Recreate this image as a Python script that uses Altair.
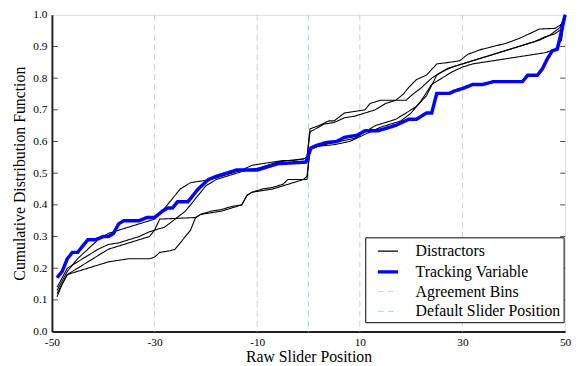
import altair as alt
import pandas as pd

# ---------------- data ----------------
x_ticks = [-50, -30, -10, 10, 30, 50]
y_ticks = [0.0, 0.1, 0.2, 0.3, 0.4, 0.5, 0.6, 0.7, 0.8, 0.9, 1.0]
agreement_bins = [-30, -10, 10, 30]
default_position = [0]

d1_x = [-49, -48, -47, -45, -43, -41, -39, -37, -35, -33, -31, -30, -29, -28, -27, -25, -23, -21, -19, -17, -15, -13,
        -11, -9, -7, -5, -3, -1, -0.3, 0.3, 2, 4, 5, 7, 9, 11, 12, 14, 17, 18.5, 19.5, 21, 23, 25, 27.5, 29.5, 31, 33.5,
        36, 38.5, 41, 43, 45, 48, 49.3, 50]
d1_y = [0.13, 0.16, 0.19, 0.23, 0.26, 0.29, 0.31, 0.32, 0.33, 0.34, 0.35, 0.355, 0.37, 0.39, 0.41, 0.45, 0.47, 0.475,
        0.48, 0.49, 0.50, 0.51, 0.525, 0.53, 0.535, 0.54, 0.54, 0.545, 0.55, 0.64, 0.65, 0.665, 0.665, 0.69, 0.695, 0.70,
        0.72, 0.73, 0.73, 0.75, 0.77, 0.795, 0.81, 0.845, 0.85, 0.855, 0.875, 0.89, 0.90, 0.91, 0.925, 0.94, 0.955,
        0.957, 0.97, 1.0]

d2_x = [-49, -48, -47, -45, -43, -41, -39, -37, -35, -33, -31, -30, -29, -22, -21, -19, -17, -15, -13, -12, -11, -9, -7,
        -5, -3, -1, -0.3, 0.3, 2, 5, 8, 10, 12, 14, 16, 18, 20, 22, 24, 26, 28, 30, 32, 34, 36, 38, 40, 42, 44, 46, 48,
        49.3, 50]
d2_y = [0.12, 0.15, 0.18, 0.20, 0.22, 0.24, 0.26, 0.27, 0.28, 0.29, 0.30, 0.32, 0.355, 0.36, 0.37, 0.38, 0.385, 0.395,
        0.40, 0.43, 0.44, 0.445, 0.45, 0.46, 0.47, 0.48, 0.49, 0.575, 0.585, 0.59, 0.60, 0.615, 0.63, 0.645, 0.655, 0.665,
        0.69, 0.73, 0.78, 0.80, 0.82, 0.835, 0.845, 0.85, 0.855, 0.86, 0.865, 0.87, 0.875, 0.88, 0.89, 0.92, 1.0]

d3_x = [-49, -48, -47, -45, -43, -41, -39, -37, -35, -33, -31, -30, -28, -26, -24, -22, -20, -18, -16, -14, -12, -10, -8,
        -6, -4, -1, -0.3, 0.3, 3, 5, 7, 9, 11, 13, 15, 17, 19, 20, 22, 24, 26, 28, 30, 32, 34, 36, 38, 40, 42, 44, 46, 48,
        49.3, 50]
d3_y = [0.14, 0.17, 0.20, 0.22, 0.24, 0.26, 0.275, 0.28, 0.29, 0.30, 0.315, 0.32, 0.33, 0.355, 0.38, 0.42, 0.46, 0.48,
        0.49, 0.50, 0.51, 0.515, 0.525, 0.535, 0.54, 0.545, 0.55, 0.63, 0.655, 0.66, 0.675, 0.68, 0.69, 0.70, 0.72, 0.73,
        0.73, 0.745, 0.77, 0.80, 0.82, 0.835, 0.845, 0.855, 0.865, 0.875, 0.885, 0.895, 0.905, 0.915, 0.93, 0.94, 0.955,
        1.0]

d4_x = [-49, -48, -47, -45, -43, -41, -39, -37, -35, -33, -31, -30, -29, -27, -26, -25, -24, -23, -22, -21, -19, -17,
        -15, -13, -12, -11, -9, -7, -5, -4, -2, -0.3, 0.3, 3, 6, 9, 11, 13, 15, 17, 19, 21, 23, 25, 27, 29, 31, 33, 35,
        37, 39, 41, 43, 45, 47, 49, 50]
d4_y = [0.11, 0.15, 0.18, 0.19, 0.20, 0.21, 0.22, 0.225, 0.23, 0.23, 0.23, 0.235, 0.25, 0.255, 0.26, 0.28, 0.30, 0.32,
        0.36, 0.37, 0.375, 0.38, 0.39, 0.40, 0.43, 0.44, 0.45, 0.455, 0.465, 0.48, 0.48, 0.48, 0.58, 0.59, 0.60, 0.61,
        0.63, 0.65, 0.66, 0.67, 0.69, 0.71, 0.745, 0.81, 0.83, 0.84, 0.85, 0.86, 0.87, 0.88, 0.89, 0.90, 0.91, 0.92,
        0.935, 0.96, 1.0]

track_x = [-49, -48, -47, -46, -45, -44, -43, -41.5, -40, -39, -38, -37, -36, -33, -31.5, -30, -28.5, -27.5, -26.5,
           -25.5, -23.5, -21.5, -19.5, -18, -16, -14, -10, -8, -6, -0.5, 0.5, 1.5, 3.5, 5.5, 7, 9.5, 11, 13.5, 15, 17,
           19.5, 21, 23, 24, 25, 27.5, 28.5, 30, 32, 34, 36, 41.7, 42.7, 44.6, 45.6, 46.5, 47.5, 48.5, 49.3, 50]
track_y = [0.17, 0.19, 0.23, 0.25, 0.25, 0.27, 0.29, 0.29, 0.30, 0.30, 0.31, 0.34, 0.35, 0.35, 0.36, 0.36, 0.38, 0.39,
           0.39, 0.41, 0.41, 0.45, 0.48, 0.49, 0.50, 0.51, 0.51, 0.52, 0.53, 0.535, 0.58, 0.587, 0.597, 0.60, 0.613, 0.62,
           0.634, 0.634, 0.641, 0.651, 0.67, 0.67, 0.69, 0.69, 0.752, 0.752, 0.76, 0.767, 0.78, 0.78, 0.789, 0.789,
           0.809, 0.809, 0.83, 0.86, 0.886, 0.892, 0.95, 1.0]

series = ["Distractors", "Tracking Variable", "Agreement Bins", "Default Slider Position"]
colors = ["#000000", "#0000ff", "#cfcfcf", "#a6d6ea"]
widths = [1.1, 3.5, 1, 1]
dashes = [[1, 0], [1, 0], [6, 4], [6, 4]]

# ---------------- tables ----------------
rows = []
for i, (xs, ys) in enumerate([(d1_x, d1_y), (d2_x, d2_y), (d3_x, d3_y), (d4_x, d4_y)]):
    for xv, yv in zip(xs, ys):
        rows.append({"x": xv, "y": yv, "series": "Distractors", "line": f"d{i}"})
dist_df = pd.DataFrame(rows)
track_df = pd.DataFrame({"x": track_x, "y": track_y, "series": "Tracking Variable", "line": "t"})
rule_df = pd.DataFrame({
    "x": agreement_bins + default_position,
    "series": ["Agreement Bins"] * len(agreement_bins) + ["Default Slider Position"] * len(default_position),
})
inner_ticks = [v for v in y_ticks if 0 < v < 1]
tick_df = pd.DataFrame({"y": inner_ticks})

FONT = "Liberation Serif"

legend = alt.Legend(
    title=None, orient="none", legendX=317.5, legendY=225.5,
    symbolType="stroke", symbolSize=420, symbolOffset=8,
    labelFont=FONT, labelFontSize=16, labelColor="black",
    strokeColor="black", fillColor="white", padding=3, rowPadding=1, labelOffset=16,
    cornerRadius=0,
)
xscale = alt.Scale(domain=[-50, 50], nice=False, zero=False)
yscale = alt.Scale(domain=[0, 1], nice=False)

xaxis = alt.Axis(values=x_ticks, title="Raw Slider Position", grid=False, ticks=False,
                 labelExpr="datum.value < 0 ? '-' + abs(datum.value) : '' + datum.value",
                 domainWidth=2, domainColor="#222222", labelFont=FONT, labelFontSize=11.5, labelColor="black",
                 labelPadding=5, titleFont=FONT, titleFontSize=16, titleFontWeight="normal", titleColor="black",
                 titlePadding=1, labelFlush=False)
yaxis = alt.Axis(values=y_ticks, format=".1f", title="Cumulative Distribution Function", grid=False, ticks=False,
                 domainWidth=2, domainColor="#222222", labelFont=FONT, labelFontSize=11.5, labelColor="black",
                 labelPadding=5, titleFont=FONT, titleFontSize=16, titleFontWeight="normal", titleColor="black",
                 titlePadding=5)

enc_common = dict(
    color=alt.Color("series:N", scale=alt.Scale(domain=series, range=colors), legend=legend),
    strokeWidth=alt.StrokeWidth("series:N", scale=alt.Scale(type="ordinal", domain=series, range=widths),
                                legend=legend),
    strokeDash=alt.StrokeDash("series:N", scale=alt.Scale(domain=series, range=dashes), legend=legend),
)

rules = alt.Chart(rule_df).mark_rule().encode(
    x=alt.X("x:Q", scale=xscale, axis=xaxis),
    **enc_common,
)
dist = alt.Chart(dist_df).mark_line(strokeJoin="miter").encode(
    x=alt.X("x:Q", scale=xscale, axis=xaxis),
    y=alt.Y("y:Q", scale=yscale, axis=yaxis),
    detail="line:N",
    **enc_common,
)
track = alt.Chart(track_df).mark_line(strokeJoin="miter").encode(
    x=alt.X("x:Q", scale=xscale, axis=xaxis),
    y=alt.Y("y:Q", scale=yscale, axis=yaxis),
    **enc_common,
)
right_ticks = alt.Chart(tick_df).mark_tick(orient="horizontal", size=5, thickness=1, color="black", xOffset=-2.5).encode(
    x=alt.datum(50), y=alt.Y("y:Q", scale=yscale, axis=yaxis)
)
left_ticks = alt.Chart(tick_df).mark_tick(orient="horizontal", size=5, thickness=1, color="black", xOffset=3.5).encode(
    x=alt.datum(-50), y=alt.Y("y:Q", scale=yscale, axis=yaxis)
)

chart = alt.layer(rules, dist, track, right_ticks, left_ticks).properties(
    width=520, height=321,
    autosize=alt.AutoSizeParams(type="none"),
    padding={"left": 44.5, "top": 4.5, "right": 8, "bottom": 33},
).configure_view(stroke="black", strokeWidth=1).configure(background="white", font=FONT)

chart.save("out.html", embed_options={"renderer": "svg", "actions": False})
